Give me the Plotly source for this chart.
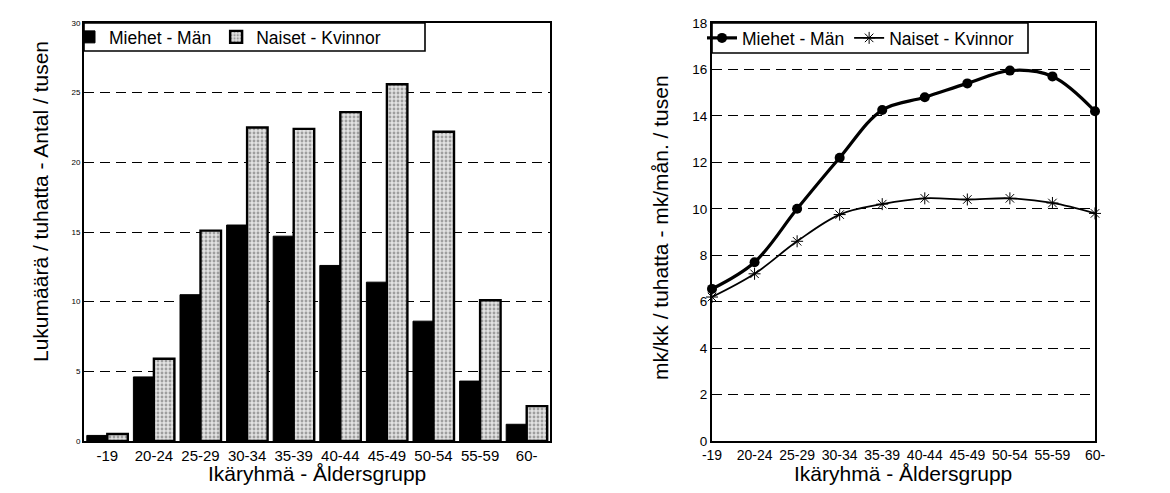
import plotly.graph_objects as go

age_groups = ["-19", "20-24", "25-29", "30-34", "35-39", "40-44",
              "45-49", "50-54", "55-59", "60-"]

# left: count per thousand
count_men = [0.4, 4.6, 10.5, 15.5, 14.7, 12.6, 11.4, 8.6, 4.3, 1.2]
count_women = [0.5, 5.9, 15.1, 22.5, 22.4, 23.6, 25.6, 22.2, 10.1, 2.5]

# right: income, mk per month / thousand
income_men = [6.55, 7.7, 10.0, 12.2, 14.25, 14.8, 15.4, 15.95, 15.7, 14.2]
income_women = [6.2, 7.2, 8.6, 9.75, 10.2, 10.45, 10.4, 10.45, 10.25, 9.8]

W, H = 1170, 493
FONT = "Liberation Sans, Arial, sans-serif"


def px_x(p):
    return p / W


def px_y(p):
    return 1 - p / H


fig = go.Figure()

fig.add_trace(go.Bar(
    x=age_groups, y=count_men, name="Miehet - Män",
    marker=dict(color="black", line=dict(color="black", width=1)),
    xaxis="x", yaxis="y", legend="legend",
))
fig.add_trace(go.Bar(
    x=age_groups, y=count_women, name="Naiset - Kvinnor",
    marker=dict(color="#e4e4e4", line=dict(color="black", width=2.4),
                pattern=dict(shape=".", fgcolor="#5a5a5a", bgcolor="#e2e2e2",
                             size=4, solidity=0.4)),
    xaxis="x", yaxis="y", legend="legend",
))

fig.add_trace(go.Scatter(
    x=age_groups, y=income_men, name="Miehet - Män",
    mode="lines+markers", line=dict(color="black", width=3.2, shape="spline"),
    marker=dict(symbol="circle", size=10, color="black"),
    cliponaxis=False,
    xaxis="x2", yaxis="y2", legend="legend2",
))
fig.add_trace(go.Scatter(
    x=age_groups, y=income_women, name="Naiset - Kvinnor",
    mode="lines+markers", line=dict(color="black", width=1.8, shape="spline"),
    marker=dict(symbol="asterisk-open", size=10,
                line=dict(color="black", width=1)),
    cliponaxis=False,
    xaxis="x2", yaxis="y2", legend="legend2",
))

axis_common = dict(showline=True, linecolor="black", linewidth=2, mirror=True,
                   color="black", zeroline=False, automargin=False)
grid = dict(showgrid=True, gridcolor="black", gridwidth=1.4,
            griddash="10px,6px")
title_font = dict(family=FONT, size=21, color="black")

# legend frames (white boxes on top of the plot areas)
shapes = [
    dict(type="rect", xref="paper", yref="paper",
         x0=px_x(76), x1=px_x(417), y0=px_y(43), y1=px_y(15),
         line=dict(color="black", width=1.6), fillcolor="white",
         layer="above"),
    dict(type="rect", xref="paper", yref="paper",
         x0=px_x(704), x1=px_x(1020), y0=px_y(45), y1=px_y(15),
         line=dict(color="black", width=1.6), fillcolor="white",
         layer="above"),
]


def title_note(text, x, y, angle=0):
    return dict(text=text, x=px_x(x), y=px_y(y), xref="paper", yref="paper",
                xanchor="center", yanchor="middle", showarrow=False,
                textangle=angle, font=title_font)


annotations = [
    title_note("Ikäryhmä - Åldersgrupp", 309, 465),
    title_note("Ikäryhmä - Åldersgrupp", 895, 465),
    title_note("Lukumäärä / tuhatta - Antal / tusen", 32, 194, -90),
    title_note("mk/kk / tuhatta - mk/mån. / tusen", 653, 220, -90),
]

fig.update_layout(
    width=W, height=H,
    margin=dict(l=0, r=0, t=0, b=0),
    paper_bgcolor="white", plot_bgcolor="white",
    font=dict(family=FONT, color="black"),
    barmode="group", bargap=0.12, bargroupgap=0,
    shapes=shapes, annotations=annotations,
    xaxis=dict(domain=[px_x(76), px_x(542)], anchor="y", type="category",
               showgrid=False, ticks="", tickfont=dict(size=15),
               **axis_common),
    yaxis=dict(domain=[px_y(433), px_y(15)], anchor="x", range=[0, 30],
               dtick=5, tickfont=dict(size=8, family="Arial Black, " + FONT),
               ticks="outside", ticklen=0,
               **axis_common, **grid),
    xaxis2=dict(domain=[px_x(704), px_x(1087)], anchor="y2", type="category",
                range=[0, 9], showgrid=False, ticks="",
                tickfont=dict(size=14), **axis_common),
    yaxis2=dict(domain=[px_y(433), px_y(15)], anchor="x2", range=[0, 18],
                dtick=2, tickfont=dict(size=13.5), ticks="",
                **axis_common, **grid),
    legend=dict(x=px_x(61), y=px_y(29), xanchor="left", yanchor="middle",
                orientation="h", bgcolor="rgba(0,0,0,0)", borderwidth=0,
                font=dict(size=17.5), itemwidth=30),
    legend2=dict(x=px_x(694), y=px_y(30), xanchor="left", yanchor="middle",
                 orientation="h", bgcolor="rgba(0,0,0,0)", borderwidth=0,
                 font=dict(size=17.5), itemwidth=30),
)

fig.write_html("out.html")
